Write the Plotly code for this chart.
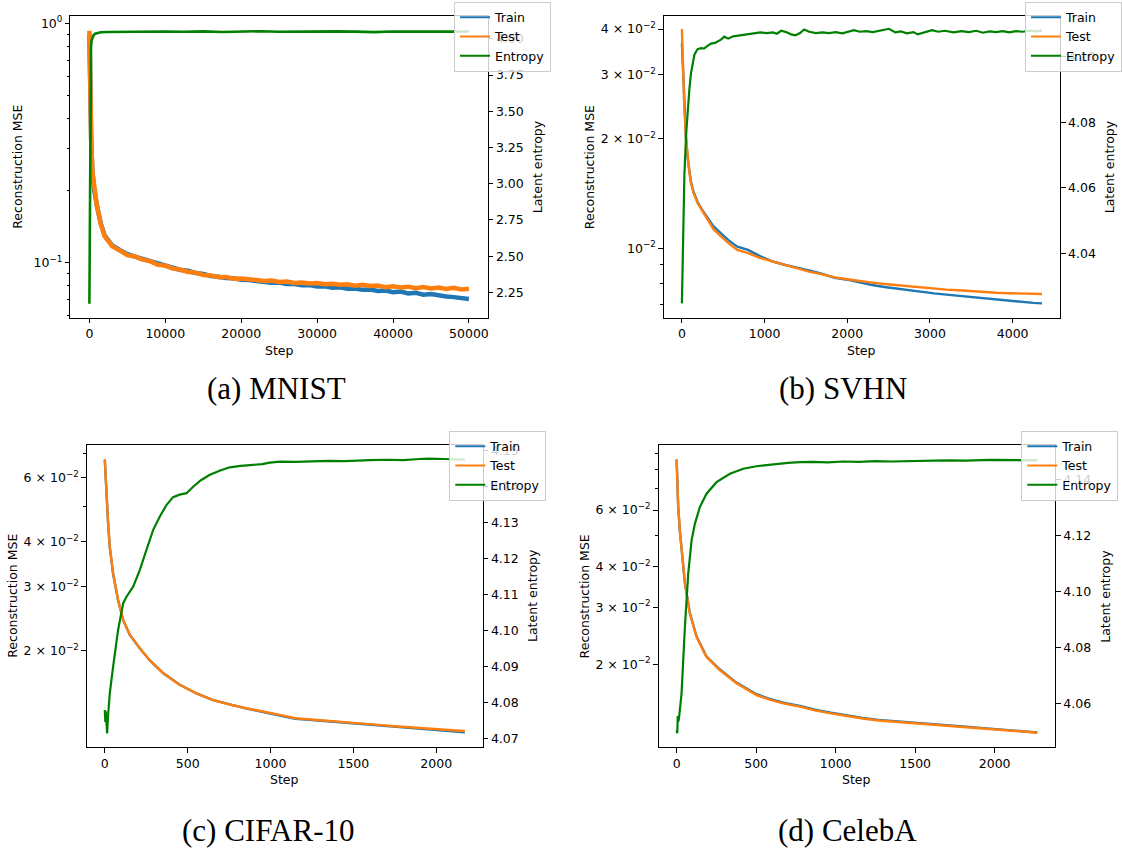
import plotly.graph_objects as go

W, H = 1122, 849
BLUE, ORANGE, GREEN = "#1f77b4", "#ff7f0e", "#008000"
FONT = "DejaVu Sans"

# ---------------- (a) MNIST ----------------
mnist_steps = [0, 100, 250, 400, 650, 1000, 1500, 2000, 2500, 3000,
               4000, 5000, 6000, 7000, 8000, 9000, 10000, 11000, 12000, 13000,
               14000, 15000, 16000, 17000, 18000, 19000, 20000, 21000, 22000, 23000,
               24000, 25000, 26000, 27000, 28000, 29000, 30000, 31000, 32000, 33000,
               34000, 35000, 36000, 37000, 38000, 39000, 40000, 41000, 42000, 43000,
               44000, 45000, 46000, 47000, 48000, 49000, 50000]
mnist_test = [0.931, 0.52, 0.31, 0.24, 0.20, 0.172, 0.145, 0.129, 0.123, 0.117,
              0.1125, 0.1075, 0.1062, 0.1030, 0.1015, 0.0980, 0.0972, 0.0944, 0.0936, 0.0915,
              0.0909, 0.0889, 0.0885, 0.0869, 0.0872, 0.0857, 0.0858, 0.0848, 0.0847, 0.0838,
              0.0843, 0.0830, 0.0834, 0.0823, 0.0826, 0.0819, 0.0822, 0.0812, 0.0816, 0.0808,
              0.0813, 0.0801, 0.0808, 0.0799, 0.0803, 0.0790, 0.0797, 0.0788, 0.0794, 0.0782,
              0.0791, 0.0781, 0.0787, 0.0776, 0.0785, 0.0773, 0.0778]
mnist_train = [0.90, 0.52, 0.31, 0.24, 0.20, 0.173, 0.146, 0.130, 0.124, 0.118,
               0.1130, 0.1085, 0.1060, 0.1038, 0.1010, 0.0990, 0.0968, 0.0955, 0.0932, 0.0925,
               0.0905, 0.0898, 0.0880, 0.0874, 0.0862, 0.0860, 0.0848, 0.0846, 0.0836, 0.0834,
               0.0825, 0.0826, 0.0814, 0.0815, 0.0804, 0.0806, 0.0795, 0.0797, 0.0786, 0.0789,
               0.0778, 0.0780, 0.0770, 0.0773, 0.0762, 0.0765, 0.0752, 0.0757, 0.0744, 0.0748,
               0.0735, 0.0739, 0.0727, 0.0722, 0.0718, 0.0712, 0.0705]
mnist_ent_steps = [0, 40, 80, 120, 170, 220, 300, 400, 550, 750, 1000, 1500, 2500, 5000,
                   7500, 10000, 12500, 15000, 17500, 20000, 22500, 25000, 27500, 30000,
                   32500, 35000, 37500, 40000, 42500, 45000, 47500, 50000]
mnist_entropy = [2.172, 2.55, 3.05, 3.5, 3.82, 3.95, 3.99, 4.01, 4.025, 4.036, 4.041, 4.046,
                 4.048, 4.050, 4.047, 4.051, 4.049, 4.052, 4.048, 4.050, 4.053, 4.049, 4.051,
                 4.048, 4.052, 4.050, 4.047, 4.051, 4.049, 4.052, 4.050, 4.051]
mnist_xticks = [0, 10000, 20000, 30000, 40000, 50000]
mnist_yticks = [0.1, 1]
mnist_ytext = ["10<sup>−1</sup>", "10<sup>0</sup>"]
mnist_yminor = [0.06, 0.07, 0.08, 0.09, 0.2, 0.3, 0.4, 0.5, 0.6, 0.7, 0.8, 0.9]
mnist_ent_ticks = [2.25, 2.5, 2.75, 3.0, 3.25, 3.5, 3.75, 4.0]

# ---------------- (b) SVHN ----------------
svhn_steps = [0, 15, 30, 50, 70, 90, 110, 140, 190, 250, 310, 380, 470, 570, 670, 800, 950,
              1100, 1250, 1400, 1550, 1700, 1850, 2000, 2150, 2300, 2450, 2600, 2750, 2900,
              3050, 3200, 3350, 3500, 3650, 3800, 3950, 4100, 4250, 4355]
svhn_test = [0.0400, 0.0310, 0.0240, 0.0200, 0.0175, 0.0162, 0.0151, 0.0142, 0.0133, 0.0126,
             0.0120, 0.0113, 0.0108, 0.0103, 0.0099, 0.0097, 0.0094, 0.0092, 0.0090, 0.0088,
             0.00862, 0.00848, 0.00832, 0.00822, 0.00812, 0.00805, 0.00798, 0.00792, 0.00786,
             0.00780, 0.00776, 0.00770, 0.00767, 0.00762, 0.00758, 0.00755, 0.00753, 0.00751,
             0.00749, 0.00749]
svhn_train = [0.0366, 0.0300, 0.0242, 0.0201, 0.0177, 0.0163, 0.0152, 0.0143, 0.0134, 0.0127,
              0.0121, 0.0115, 0.0110, 0.0105, 0.0101, 0.0099, 0.0095, 0.0092, 0.0090, 0.00885,
              0.00868, 0.00850, 0.00830, 0.00820, 0.00805, 0.00793, 0.00783, 0.00775, 0.00765,
              0.00758, 0.00752, 0.00746, 0.00740, 0.00734, 0.00728, 0.00722, 0.00717, 0.00712,
              0.00708, 0.00706]
svhn_ent_steps = [0, 15, 30, 50, 70, 90, 110, 130, 150, 170, 190, 230, 270, 310, 352, 400, 440,
                  472, 513, 560, 620, 680, 750, 820, 875, 950, 1030, 1100, 1150, 1200, 1260,
                  1320, 1372, 1430, 1478, 1540, 1620, 1700, 1780, 1860, 1940, 2020, 2082, 2150,
                  2230, 2310, 2400, 2505, 2580, 2650, 2720, 2800, 2852, 2920, 3026, 3100, 3180,
                  3287, 3380, 3470, 3560, 3640, 3720, 3800, 3880, 3960, 4040, 4120, 4200, 4280,
                  4355]
svhn_entropy = [4.0248, 4.046, 4.064, 4.076, 4.0845, 4.090, 4.095, 4.098, 4.1005, 4.1015,
                4.1023, 4.1026, 4.1025, 4.1033, 4.1040, 4.1042, 4.1048, 4.1052, 4.1061, 4.1055,
                4.1062, 4.1064, 4.1068, 4.1070, 4.1071, 4.1074, 4.1072, 4.1074, 4.1070, 4.1079,
                4.1075, 4.1068, 4.1065, 4.1072, 4.1083, 4.1076, 4.1072, 4.1074, 4.1072, 4.1075,
                4.1071, 4.1077, 4.1081, 4.1076, 4.1078, 4.1075, 4.1079, 4.1085, 4.1074, 4.1077,
                4.1071, 4.1075, 4.1068, 4.1074, 4.1081, 4.1076, 4.1079, 4.1074, 4.1078, 4.1075,
                4.1079, 4.1073, 4.1077, 4.1075, 4.1078, 4.1074, 4.1078, 4.1076, 4.1079, 4.1077,
                4.1080]
svhn_xticks = [0, 1000, 2000, 3000, 4000]
svhn_yticks = [0.01, 0.02, 0.03, 0.04]
svhn_ytext = ["10<sup>−2</sup>", "2 × 10<sup>−2</sup>", "3 × 10<sup>−2</sup>", "4 × 10<sup>−2</sup>"]
svhn_yminor = [0.007, 0.008, 0.009]
svhn_ent_ticks = [4.02, 4.04, 4.06, 4.08, 4.10]

# ---------------- (c) CIFAR-10 ----------------
cifar_steps = [0, 10, 20, 30, 50, 80, 111, 151, 211, 272, 352, 453, 553, 654, 755, 855, 956,
               1056, 1150, 1250, 1350, 1450, 1550, 1650, 1750, 1850, 1950, 2050, 2120, 2173]
cifar_test = [0.0675, 0.0532, 0.0450, 0.0387, 0.0327, 0.0276, 0.0243, 0.0221, 0.0203, 0.0188,
              0.01733, 0.01608, 0.01525, 0.01462, 0.01420, 0.01387, 0.01360, 0.01330, 0.01302,
              0.01290, 0.01280, 0.01270, 0.01258, 0.01248, 0.01238, 0.01228, 0.01217, 0.01209,
              0.01205, 0.01201]
cifar_train = [0.0670, 0.0530, 0.0449, 0.0386, 0.0326, 0.0276, 0.0243, 0.0221, 0.0203, 0.0188,
               0.01735, 0.01610, 0.01524, 0.01460, 0.01418, 0.01384, 0.01355, 0.01326, 0.01298,
               0.01287, 0.01276, 0.01266, 0.01254, 0.01244, 0.01233, 0.01220, 0.01210, 0.01199,
               0.01194, 0.01190]
cifar_ent_steps = [0, 3, 6, 10, 14, 20, 30, 50, 80, 111, 131, 171, 211, 251, 292, 332, 372, 412,
                   452, 493, 533, 580, 634, 700, 754, 820, 895, 950, 996, 1056, 1150, 1250, 1350,
                   1450, 1521, 1600, 1700, 1800, 1900, 1953, 2050, 2120, 2173]
cifar_entropy = [4.0779, 4.0746, 4.0775, 4.0735, 4.0714, 4.0765, 4.0825, 4.0899, 4.1001, 4.1076,
                 4.1094, 4.1122, 4.1168, 4.1224, 4.1280, 4.1317, 4.1349, 4.1371, 4.1378, 4.1382,
                 4.1400, 4.1418, 4.1433, 4.1446, 4.1454, 4.1458, 4.1461, 4.1463, 4.1467, 4.1470,
                 4.1469, 4.1471, 4.1472, 4.1471, 4.1473, 4.1474, 4.1475, 4.1474, 4.1477, 4.1478,
                 4.1477, 4.1476, 4.1475]
cifar_xticks = [0, 500, 1000, 1500, 2000]
cifar_yticks = [0.02, 0.03, 0.04, 0.06]
cifar_ytext = ["2 × 10<sup>−2</sup>", "3 × 10<sup>−2</sup>", "4 × 10<sup>−2</sup>", "6 × 10<sup>−2</sup>"]
cifar_yminor = [0.05, 0.07]
cifar_ent_ticks = [4.07, 4.08, 4.09, 4.10, 4.11, 4.12, 4.13, 4.14, 4.15]

# ---------------- (d) CelebA ----------------
celeba_steps = [0, 10, 20, 31, 52, 83, 125, 187, 271, 376, 502, 586, 670, 775, 870, 970, 1068,
                1170, 1270, 1370, 1519, 1620, 1720, 1820, 1970, 2070, 2170, 2268]
celeba_test = [0.0861, 0.0614, 0.0520, 0.0451, 0.0356, 0.02876, 0.02433, 0.02111, 0.0192,
               0.01747, 0.01607, 0.01555, 0.01515, 0.01479, 0.01440, 0.01410, 0.01384, 0.01360,
               0.01340, 0.01328, 0.01314, 0.01301, 0.01290, 0.01280, 0.01262, 0.01251, 0.01240,
               0.01229]
celeba_train = [0.0858, 0.0612, 0.0519, 0.0451, 0.0357, 0.02885, 0.02440, 0.02118, 0.0193,
                0.01756, 0.01616, 0.01564, 0.01522, 0.01486, 0.01447, 0.01417, 0.01390, 0.01366,
                0.01346, 0.01333, 0.01318, 0.01305, 0.01293, 0.01283, 0.01265, 0.01253, 0.01242,
                0.01231]
celeba_ent_steps = [0, 2, 4, 7, 10, 14, 20, 31, 52, 73, 94, 115, 146, 188, 251, 335, 419, 502,
                    565, 628, 700, 775, 850, 950, 1050, 1150, 1250, 1350, 1450, 1519, 1620, 1720,
                    1820, 1970, 2070, 2170, 2268]
celeba_entropy = [4.0505, 4.0540, 4.0493, 4.0555, 4.0534, 4.0545, 4.0575, 4.0636, 4.0874,
                  4.1064, 4.1183, 4.1243, 4.1302, 4.1350, 4.1391, 4.1421, 4.1439, 4.1448,
                  4.1452, 4.1457, 4.1460, 4.1463, 4.1464, 4.1462, 4.1465, 4.1464, 4.1466,
                  4.1465, 4.1467, 4.1466, 4.1468, 4.1469, 4.1468, 4.1471, 4.1470, 4.1470,
                  4.1469]
celeba_xticks = [0, 500, 1000, 1500, 2000]
celeba_yticks = [0.02, 0.03, 0.04, 0.06]
celeba_ytext = ["2 × 10<sup>−2</sup>", "3 × 10<sup>−2</sup>", "4 × 10<sup>−2</sup>", "6 × 10<sup>−2</sup>"]
celeba_yminor = [0.05, 0.07, 0.08, 0.09]
celeba_ent_ticks = [4.06, 4.08, 4.10, 4.12, 4.14]

captions = ["(a) MNIST", "(b) SVHN", "(c) CIFAR-10", "(d) CelebA"]

panels = [
    dict(steps=mnist_steps, train=mnist_train, test=mnist_test, ent_steps=mnist_ent_steps,
         ent=mnist_entropy, xt=mnist_xticks, yt=mnist_yticks, ytext=mnist_ytext,
         ymin=mnist_yminor, et=mnist_ent_ticks),
    dict(steps=svhn_steps, train=svhn_train, test=svhn_test, ent_steps=svhn_ent_steps,
         ent=svhn_entropy, xt=svhn_xticks, yt=svhn_yticks, ytext=svhn_ytext,
         ymin=svhn_yminor, et=svhn_ent_ticks),
    dict(steps=cifar_steps, train=cifar_train, test=cifar_test, ent_steps=cifar_ent_steps,
         ent=cifar_entropy, xt=cifar_xticks, yt=cifar_yticks, ytext=cifar_ytext,
         ymin=cifar_yminor, et=cifar_ent_ticks),
    dict(steps=celeba_steps, train=celeba_train, test=celeba_test, ent_steps=celeba_ent_steps,
         ent=celeba_entropy, xt=celeba_xticks, yt=celeba_yticks, ytext=celeba_ytext,
         ymin=celeba_yminor, et=celeba_ent_ticks),
]

# geometry in pixels: plot box (left, top, right, bottom), log range of MSE axis,
# entropy axis range, legend corner, label x positions, caption centre
geom = [
    dict(box=(70.4, 16, 487.9, 317.5), yr=(-1.229, 0.0305), er=(2.077, 4.158), leg=(454, 1.5),
         ylx=18, elx=537.5, cap=(276, 388), lw=4.5, ew=2.6),
    dict(box=(663.9, 16, 1060, 317.5), yr=(-2.19, -1.362), er=(4.0205, 4.1124), leg=(1025, 1.5),
         ylx=589.4, elx=1109.5, cap=(843, 388), lw=2.4, ew=2.2),
    dict(box=(86.8, 445, 482.9, 747), yr=(-1.9647, -1.1316), er=(4.0676, 4.1516), leg=(449.3, 430.5),
         ylx=11.8, elx=532, cap=(268, 830), lw=2.4, ew=2.2),
    dict(box=(658.6, 445, 1055.3, 747), yr=(-1.9547, -1.0208), er=(4.0444, 4.1524), leg=(1021.3, 430.5),
         ylx=584.4, elx=1104.8, cap=(848, 830), lw=2.4, ew=2.2),
]

fig = go.Figure()
layout = dict(width=W, height=H, margin=dict(l=0, r=0, t=0, b=0, autoexpand=False),
              paper_bgcolor="white", plot_bgcolor="white", showlegend=True,
              font=dict(family=FONT, size=12.5, color="black"))
annotations = []
tickfont = dict(family=FONT, size=12.5, color="black")

for i, (p, g) in enumerate(zip(panels, geom), start=1):
    xa = "x" if i == 1 else f"x{i}"
    yl = "y" if i == 1 else f"y{2 * i - 1}"
    yr = f"y{2 * i}"
    lg = "legend" if i == 1 else f"legend{i}"
    x0, y0, x1, y1 = g["box"]

    fig.add_trace(go.Scatter(x=p["steps"], y=p["train"], xaxis=xa, yaxis=yl, mode="lines",
                             line=dict(color=BLUE, width=g["lw"]), showlegend=False))
    fig.add_trace(go.Scatter(x=p["steps"], y=p["test"], xaxis=xa, yaxis=yl, mode="lines",
                             line=dict(color=ORANGE, width=g["lw"]), showlegend=False))
    fig.add_trace(go.Scatter(x=p["ent_steps"], y=p["ent"], xaxis=xa, yaxis=yr, mode="lines",
                             line=dict(color=GREEN, width=g["ew"]), showlegend=False))
    for nm, c in (("Train", BLUE), ("Test", ORANGE), ("Entropy", GREEN)):
        fig.add_trace(go.Scatter(x=[None], y=[None], xaxis=xa, yaxis=yl, mode="lines",
                                 line=dict(color=c, width=2), name=nm, legend=lg))

    xmax = max(p["steps"])
    pad = 0.05 * xmax
    common = dict(ticks="outside", ticklen=4.5, tickwidth=1, tickcolor="black", showgrid=False,
                  zeroline=False, tickfont=tickfont, automargin=False)
    layout["xaxis" if i == 1 else f"xaxis{i}"] = dict(
        domain=[x0 / W, x1 / W], range=[-pad, xmax + pad], anchor=yl, tickvals=p["xt"],
        tickformat="d", showline=True, linecolor="black", linewidth=1, mirror=True, **common)
    layout["yaxis" if i == 1 else f"yaxis{2 * i - 1}"] = dict(
        domain=[1 - y1 / H, 1 - y0 / H], type="log", range=list(g["yr"]), anchor=xa,
        tickvals=p["yt"], ticktext=p["ytext"], showline=True, linecolor="black", linewidth=1,
        mirror=True,
        minor=dict(tickvals=p["ymin"], ticks="outside", ticklen=2.5, tickcolor="black",
                   tickwidth=1, showgrid=False), **common)
    layout[f"yaxis{2 * i}"] = dict(
        overlaying=yl, side="right", anchor=xa, range=list(g["er"]), tickvals=p["et"],
        tickformat=".2f", showline=False, **common)
    layout[lg] = dict(x=g["leg"][0] / W, y=1 - g["leg"][1] / H, xanchor="left", yanchor="top",
                      bgcolor="rgba(255,255,255,0.8)", bordercolor="#cccccc", borderwidth=1,
                      font=dict(family=FONT, size=12.5, color="black"), itemwidth=30,
                      tracegroupgap=0, traceorder="normal")

    ymid = 1 - (y0 + y1) / 2 / H
    annotations += [
        dict(text="Reconstruction MSE", x=g["ylx"] / W, y=ymid, textangle=-90),
        dict(text="Latent entropy", x=g["elx"] / W, y=ymid, textangle=-90),
        dict(text="Step", x=(x0 + x1) / 2 / W, y=1 - (y1 + 32.5) / H),
    ]
    annotations.append(dict(text=captions[i - 1], x=g["cap"][0] / W, y=1 - g["cap"][1] / H,
                            font=dict(family="Liberation Serif", size=31, color="black")))

for a in annotations:
    a.update(xref="paper", yref="paper", showarrow=False, xanchor="center", yanchor="middle")
    a.setdefault("font", dict(family=FONT, size=12.5, color="black"))
layout["annotations"] = annotations

fig.update_layout(**layout)
# drop the browser's default 8px body margin so the figure sits at the page corner
fig.write_html("out.html", config={"displayModeBar": False},
               post_script="document.body.style.margin='0';")
